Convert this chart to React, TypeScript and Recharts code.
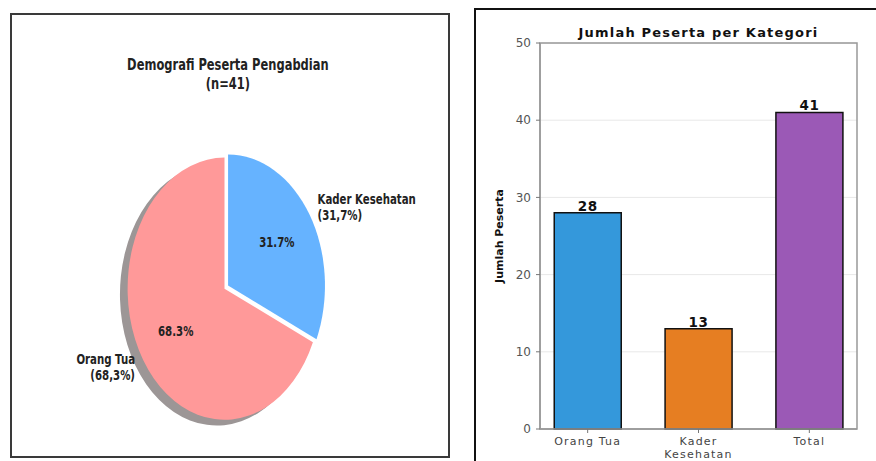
import React from 'react'
import {
  PieChart,
  Pie,
  Cell,
  BarChart,
  Bar,
  XAxis,
  YAxis,
  CartesianGrid,
  LabelList,
  ReferenceArea,
} from 'recharts'

const RAD = Math.PI / 180
const FONT = '"DejaVu Sans", sans-serif'

// pie data
const pieNames = ['Orang Tua', 'Kader Kesehatan']
const pieValues = [28, 13]
const piePctText = ['68.3%', '31.7%']
const pieOuterText = [
  ['Orang Tua', '(68,3%)'],
  ['Kader Kesehatan', '(31,7%)'],
]
const pieColors = ['#ff9999', '#66b3ff']

// bar data
const barNames = ['Orang Tua', 'Kader Kesehatan', 'Total']
const barTickLines = [['Orang Tua'], ['Kader', 'Kesehatan'], ['Total']]
const barValues = [28, 13, 41]
const barColors = ['#3498db', '#e67e22', '#9b59b6']
const yTicks = [0, 10, 20, 30, 40, 50]

const pieData = pieNames.map((name, i) => ({ name, value: pieValues[i] }))
const barData = barNames.map((name, i) => ({ idx: i, name, value: barValues[i] }))

// the source picture is squashed, so the pie is drawn round and scaled
const SX = 0.85
const SY = 1.15
const PW = 513
const PH = 383
const CX = 245
const CY = 233
const R = 114
const EXPLODE = 5

// explode the Kader wedge along its mid angle
const total = pieValues.reduce((a, b) => a + b, 0)
const kaderMid = 90 + (360 * (pieValues[0] + pieValues[1] / 2)) / total
const exDx = EXPLODE * Math.cos(kaderMid * RAD)
const exDy = -EXPLODE * Math.sin(kaderMid * RAD)

function makePieLabel(only: number) {
  return (props: any) => {
    const { cx, cy, midAngle, outerRadius, index } = props
    if (index !== only) return null
    const c = Math.cos(-midAngle * RAD)
    const s = Math.sin(-midAngle * RAD)
    const ox = cx + outerRadius * 1.1 * c
    const oy = cy + outerRadius * 1.1 * s
    const ix = cx + outerRadius * 0.6 * c
    const iy = cy + outerRadius * 0.6 * s
    const lines = pieOuterText[index]
    return (
      <g>
        <text
          x={ix}
          y={iy + 4}
          textAnchor="middle"
          fontFamily={FONT}
          fontWeight="bold"
          fontSize={12}
          fill="#222"
        >
          {piePctText[index]}
        </text>
        <text
          x={ox}
          y={oy}
          textAnchor={c >= 0 ? 'start' : 'end'}
          fontFamily={FONT}
          fontWeight="bold"
          fontSize={12}
          fill="#222"
        >
          {lines.map((l, k) => (
            <tspan key={k} x={ox} y={oy + 4 + (k - (lines.length - 1) / 2) * 14}>
              {l}
            </tspan>
          ))}
        </text>
      </g>
    )
  }
}

const XTick = (props: any) => {
  const { x, y, payload } = props
  const lines = barTickLines[payload.value] ?? []
  return (
    <text
      x={x}
      y={y}
      textAnchor="middle"
      fill="#444"
      fontSize={11}
      fontFamily={FONT}
      style={{ letterSpacing: 1.2 }}
    >
      {lines.map((l, k) => (
        <tspan key={k} x={x} y={y + 10 + k * 13}>
          {l}
        </tspan>
      ))}
    </text>
  )
}

export default function App() {
  return (
    <div
      style={{
        position: 'absolute',
        left: 0,
        top: 0,
        width: 876,
        height: 461,
        overflow: 'hidden',
        background: '#fff',
        fontFamily: FONT,
      }}
    >
      {/* left panel: pie */}
      <div
        style={{
          position: 'absolute',
          left: 10,
          top: 13,
          width: 440,
          height: 445,
          border: '2px solid #3a3a3a',
          boxSizing: 'border-box',
        }}
      />
      <div
        style={{
          position: 'absolute',
          left: 12,
          top: 15,
          width: PW,
          height: PH,
          transform: `scale(${SX}, ${SY})`,
          transformOrigin: '0 0',
        }}
      >
        <div
          style={{
            position: 'absolute',
            left: 0,
            top: 36,
            width: 508,
            textAlign: 'center',
            fontWeight: 'bold',
            fontSize: 13.5,
            lineHeight: '15.5px',
            color: '#222',
          }}
        >
          Demografi Peserta Pengabdian
          <br />
          (n=41)
        </div>
        <div style={{ position: 'absolute', left: 0, top: 0 }}>
          <PieChart width={PW} height={PH}>
            {/* shadow */}
            <Pie
              data={pieData}
              dataKey="value"
              cx={CX - 9}
              cy={CY + 5}
              outerRadius={R}
              startAngle={90}
              endAngle={450}
              stroke="none"
              isAnimationActive={false}
              label={false}
              labelLine={false}
            >
              <Cell fill="#9c9696" />
              <Cell fill="none" />
            </Pie>
            <Pie
              data={pieData}
              dataKey="value"
              cx={CX}
              cy={CY}
              outerRadius={R}
              startAngle={90}
              endAngle={450}
              stroke="none"
              isAnimationActive={false}
              label={makePieLabel(0)}
              labelLine={false}
            >
              <Cell fill={pieColors[0]} />
              <Cell fill="none" />
            </Pie>
            <Pie
              data={pieData}
              dataKey="value"
              cx={CX + exDx}
              cy={CY + exDy}
              outerRadius={R}
              startAngle={90}
              endAngle={450}
              stroke="none"
              isAnimationActive={false}
              label={makePieLabel(1)}
              labelLine={false}
            >
              <Cell fill="none" />
              <Cell fill={pieColors[1]} />
            </Pie>
          </PieChart>
        </div>
      </div>

      {/* right panel: bars */}
      <div
        style={{
          position: 'absolute',
          left: 474,
          top: 8,
          width: 420,
          height: 470,
          borderLeft: '2px solid #111',
          borderTop: '2px solid #111',
        }}
      />
      <div
        style={{
          position: 'absolute',
          left: 540,
          top: 26,
          width: 317,
          textAlign: 'center',
          fontWeight: 'bold',
          fontSize: 13,
          lineHeight: '14px',
          letterSpacing: 1.2,
          color: '#111',
        }}
      >
        Jumlah Peserta per Kategori
      </div>
      <div style={{ position: 'absolute', left: 476, top: 10 }}>
        <BarChart
          width={400}
          height={451}
          data={barData}
          margin={{ top: 33, right: 19, bottom: 0, left: 0 }}
        >
          <CartesianGrid vertical={false} stroke="#e8e8e8" />
          <XAxis
            dataKey="idx"
            type="number"
            domain={[-0.43, 2.43]}
            ticks={[0, 1, 2]}
            height={32}
            tick={<XTick />}
            tickSize={4}
            tickMargin={2}
            tickLine={{ stroke: '#777' }}
            axisLine={{ stroke: '#999', strokeWidth: 1.5 }}
          />
          <YAxis
            domain={[0, 50]}
            ticks={yTicks}
            width={64}
            tickSize={4}
            tickMargin={5}
            tickLine={{ stroke: '#777' }}
            axisLine={{ stroke: '#999', strokeWidth: 1.5 }}
            tick={{ fill: '#555', fontSize: 12, fontFamily: FONT }}
            label={{
              value: 'Jumlah Peserta',
              angle: -90,
              position: 'insideLeft',
              offset: 23,
              style: {
                textAnchor: 'middle',
                fontWeight: 'bold',
                fontSize: 11,
                fill: '#111',
                fontFamily: FONT,
              },
            }}
          />
          <ReferenceArea
            x1={-0.43}
            x2={2.43}
            y1={0}
            y2={50}
            fill="none"
            stroke="#999"
            strokeWidth={1.5}
          />
          <Bar
            dataKey="value"
            barSize={67}
            stroke="#111"
            strokeWidth={1.5}
            isAnimationActive={false}
          >
            {barData.map((d, i) => (
              <Cell key={d.name} fill={barColors[i]} />
            ))}
            <LabelList
              dataKey="value"
              position="top"
              offset={2}
              style={{
                fontWeight: 'bold',
                fontSize: 13.5,
                fill: '#111',
                fontFamily: FONT,
                letterSpacing: 0.6,
              }}
            />
          </Bar>
        </BarChart>
      </div>
    </div>
  )
}
